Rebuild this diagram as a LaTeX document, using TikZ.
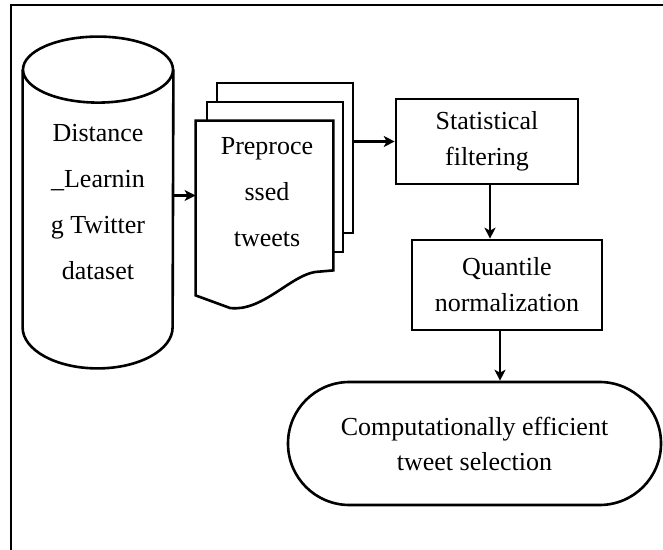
\documentclass[tikz,border=0pt]{standalone}
\usepackage{fontspec}
\setmainfont{Liberation Serif}
\usetikzlibrary{arrows,arrows.meta}
\tikzset{
    box/.style={rectangle,draw,line width=1.3pt,align=center,font=\fontsize{13pt}{18pt}\selectfont},
    page/.style={rectangle,draw,fill=white,line width=1.3pt,minimum width=68pt,minimum height=75pt},
    tall/.style={align=center,font=\fontsize{13pt}{23pt}\selectfont},
    term/.style={rectangle,draw,line width=1.3pt,rounded corners=30.7pt,align=center,
        minimum width=186.5pt,minimum height=61.5pt,font=\fontsize{13pt}{17.5pt}\selectfont},
    msg/.style={->,> = {Stealth[length=5.5pt,width=5.5pt,inset=1.5pt]},line width=1.2pt,draw=black},
}

\begin{document}
\begin{tikzpicture}[x=0.5pt,y=-0.5pt]
    \useasboundingbox (0,0) rectangle (663,550);
    \draw[line width=1.1pt] (11,560) -- (11,5) -- (670,5);

    % dataset
    \node[tall,minimum width=75pt,minimum height=165.5pt] (data) at (98,202.5) {Distance\\\_Learnin\\g Twitter\\dataset};
    \draw[line width=1.3pt] ([yshift=-16.5pt]data.north) ellipse [x radius=37.5pt, y radius=16.5pt];
    \draw[line width=1.3pt] ([yshift=-16.5pt]data.north west) -- ([yshift=20.5pt]data.south west)
        arc[start angle=180, end angle=360, x radius=37.5pt, y radius=20.5pt] -- ([yshift=-16.5pt]data.north east);

    % tweets
    \node[page] (doc3) at (285,158) {};
    \node[page] (doc2) at (275,177) {};
    \node[tall,minimum width=68.5pt,minimum height=74.5pt] (doc) at (264.5,195.5) {};
    \draw[line width=1.3pt,fill=white] (doc.south west) ++(0,-12.5pt) -- (doc.north west) -- (doc.north east) -- (doc.south east)
        -- (315,272) .. controls (290,276) and (262,312) .. (230,308) -- cycle;
    \node[tall] at (267,192) {Preproce\\ssed\\tweets};

    % filtering and normalization
    \node[box,minimum width=91pt,minimum height=42.5pt] (stat) at (487,141.5) {Statistical\\filtering};
    \node[box,minimum width=95pt,minimum height=45pt] (quant) at (507,285) {Quantile\\normalization};
    \node[term] (sel) at (474.5,443.5) {Computationally efficient\\tweet selection};

    \draw[msg] (data.east |- doc.west) -- (doc.west);
    \draw[msg] (doc3.east |- stat.west) -- (stat.west);
    \draw[msg] ([xshift=1.5pt]stat.south) -- ([xshift=1.5pt]stat.south |- quant.north);
    \draw[msg] ([xshift=-3.5pt]quant.south) -- ([xshift=-3.5pt]quant.south |- sel.north);
\end{tikzpicture}
\end{document}
